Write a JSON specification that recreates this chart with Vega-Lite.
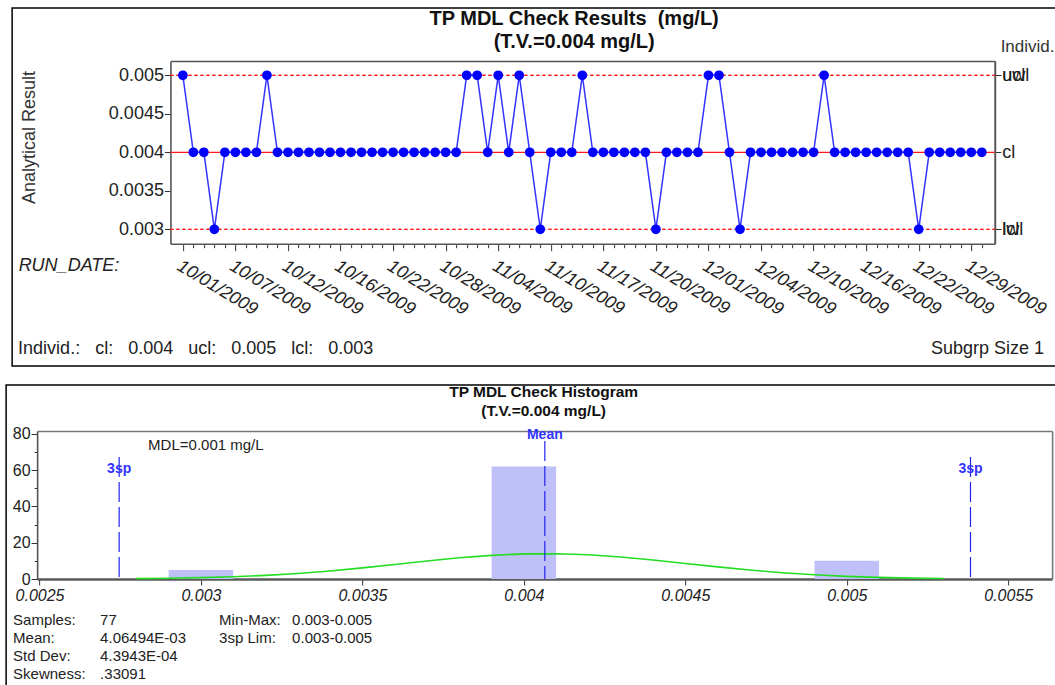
{
  "$schema": "https://vega.github.io/schema/vega-lite/v6.json",
  "background": "white",
  "padding": {"left": 5, "top": 7, "right": 0, "bottom": 0},
  "spacing": 16,
  "center": true,
  "config": {
    "font": "Liberation Sans",
    "view": {"stroke": "#000", "strokeWidth": 1.5},
    "axis": {
      "grid": false,
      "labelFont": "Liberation Sans",
      "titleFont": "Liberation Sans",
      "labelColor": "#222",
      "titleColor": "#333",
      "tickColor": "#333",
      "domainColor": "#555",
      "labelOverlap": false,
      "labelFlush": false,
      "labelBound": false
    },
    "text": {"font": "Liberation Sans"}
  },
  "datasets": {
    "results": [
      {"sample": 1, "result": 0.005}, {"sample": 2, "result": 0.004}, {"sample": 3, "result": 0.004},
      {"sample": 4, "result": 0.003}, {"sample": 5, "result": 0.004}, {"sample": 6, "result": 0.004},
      {"sample": 7, "result": 0.004}, {"sample": 8, "result": 0.004}, {"sample": 9, "result": 0.005},
      {"sample": 10, "result": 0.004}, {"sample": 11, "result": 0.004}, {"sample": 12, "result": 0.004},
      {"sample": 13, "result": 0.004}, {"sample": 14, "result": 0.004}, {"sample": 15, "result": 0.004},
      {"sample": 16, "result": 0.004}, {"sample": 17, "result": 0.004}, {"sample": 18, "result": 0.004},
      {"sample": 19, "result": 0.004}, {"sample": 20, "result": 0.004}, {"sample": 21, "result": 0.004},
      {"sample": 22, "result": 0.004}, {"sample": 23, "result": 0.004}, {"sample": 24, "result": 0.004},
      {"sample": 25, "result": 0.004}, {"sample": 26, "result": 0.004}, {"sample": 27, "result": 0.004},
      {"sample": 28, "result": 0.005}, {"sample": 29, "result": 0.005}, {"sample": 30, "result": 0.004},
      {"sample": 31, "result": 0.005}, {"sample": 32, "result": 0.004}, {"sample": 33, "result": 0.005},
      {"sample": 34, "result": 0.004}, {"sample": 35, "result": 0.003}, {"sample": 36, "result": 0.004},
      {"sample": 37, "result": 0.004}, {"sample": 38, "result": 0.004}, {"sample": 39, "result": 0.005},
      {"sample": 40, "result": 0.004}, {"sample": 41, "result": 0.004}, {"sample": 42, "result": 0.004},
      {"sample": 43, "result": 0.004}, {"sample": 44, "result": 0.004}, {"sample": 45, "result": 0.004},
      {"sample": 46, "result": 0.003}, {"sample": 47, "result": 0.004}, {"sample": 48, "result": 0.004},
      {"sample": 49, "result": 0.004}, {"sample": 50, "result": 0.004}, {"sample": 51, "result": 0.005},
      {"sample": 52, "result": 0.005}, {"sample": 53, "result": 0.004}, {"sample": 54, "result": 0.003},
      {"sample": 55, "result": 0.004}, {"sample": 56, "result": 0.004}, {"sample": 57, "result": 0.004},
      {"sample": 58, "result": 0.004}, {"sample": 59, "result": 0.004}, {"sample": 60, "result": 0.004},
      {"sample": 61, "result": 0.004}, {"sample": 62, "result": 0.005}, {"sample": 63, "result": 0.004},
      {"sample": 64, "result": 0.004}, {"sample": 65, "result": 0.004}, {"sample": 66, "result": 0.004},
      {"sample": 67, "result": 0.004}, {"sample": 68, "result": 0.004}, {"sample": 69, "result": 0.004},
      {"sample": 70, "result": 0.004}, {"sample": 71, "result": 0.003}, {"sample": 72, "result": 0.004},
      {"sample": 73, "result": 0.004}, {"sample": 74, "result": 0.004}, {"sample": 75, "result": 0.004},
      {"sample": 76, "result": 0.004}, {"sample": 77, "result": 0.004}
    ],
    "limits": [
      {"limit": "ucl", "value": 0.005},
      {"limit": "cl", "value": 0.004},
      {"limit": "lcl", "value": 0.003},
      {"limit": "uwl", "value": 0.005},
      {"limit": "lwl", "value": 0.003}
    ],
    "bins": [
      {"lo": 0.0029, "hi": 0.0031, "count": 5},
      {"lo": 0.0039, "hi": 0.0041, "count": 62},
      {"lo": 0.0049, "hi": 0.0051, "count": 10}
    ],
    "curve": [
      {"x": 0.0028, "freq": 0.22}, {"x": 0.0029, "freq": 0.42}, {"x": 0.003, "freq": 0.74},
      {"x": 0.0031, "freq": 1.25}, {"x": 0.0032, "freq": 2.01}, {"x": 0.0033, "freq": 3.07},
      {"x": 0.0034, "freq": 4.44}, {"x": 0.0035, "freq": 6.11}, {"x": 0.0036, "freq": 7.98},
      {"x": 0.0037, "freq": 9.89}, {"x": 0.0038, "freq": 11.66}, {"x": 0.0039, "freq": 13.03},
      {"x": 0.004, "freq": 13.83}, {"x": 0.0041, "freq": 13.94}, {"x": 0.0042, "freq": 13.34},
      {"x": 0.0043, "freq": 12.12}, {"x": 0.0044, "freq": 10.45}, {"x": 0.0045, "freq": 8.56},
      {"x": 0.0046, "freq": 6.66}, {"x": 0.0047, "freq": 4.92}, {"x": 0.0048, "freq": 3.45},
      {"x": 0.0049, "freq": 2.3}, {"x": 0.005, "freq": 1.45}, {"x": 0.0051, "freq": 0.87},
      {"x": 0.0052, "freq": 0.5}, {"x": 0.0053, "freq": 0.27}
    ],
    "markers": [
      {"marker": "Mean", "x": 0.00406494},
      {"marker": "3sp", "x": 0.00274665},
      {"marker": "3sp", "x": 0.00538323}
    ]
  },
  "vconcat": [
    {
      "width": 1050,
      "height": 358,
      "title": {
        "text": ["TP MDL Check Results\u00a0\u00a0(mg/L)", "(T.V.=0.004 mg/L)"],
        "fontSize": 20, "fontWeight": "bold", "lineHeight": 23, "color": "#111",
        "anchor": "middle", "frame": "group", "dx": 37, "offset": -44, "baseline": "top"
      },
      "layer": [
        {
          "data": {"name": "limits"},
          "transform": [{"filter": "datum.limit === 'cl'"}],
          "mark": {"type": "rule", "color": "#ff1a1a", "strokeWidth": 1.3},
          "encoding": {
            "x": {"datum": -0.18, "type": "quantitative",
              "axis": {"orient": "top", "offset": -53, "ticks": false, "labels": false,
                "domainWidth": 1.6, "domainColor": "#555",
                "title": "Individ.", "titleX": 988, "titleY": -15, "titleAlign": "left",
                "titleBaseline": "middle", "titleFontSize": 17, "titleFontWeight": "normal", "titleAngle": 0}},
            "x2": {"datum": 78.24},
            "y": {"field": "value", "type": "quantitative",
              "axis": {"orient": "right", "offset": -67.3, "values": [0.003, 0.004, 0.005],
                "labelExpr": "datum.value > 0.0045 ? 'ucl' : (datum.value < 0.0035 ? 'lcl' : 'cl')",
                "tickSize": 6, "labelFontSize": 18, "labelPadding": 1,
                "domainWidth": 1.6, "domainColor": "#555", "title": null}}
          }
        },
        {
          "data": {"name": "limits"},
          "transform": [{"filter": "datum.limit === 'ucl' || datum.limit === 'lcl'"}],
          "mark": {"type": "rule", "color": "#ff1a1a", "strokeWidth": 1.3, "strokeDash": [3, 3]},
          "encoding": {
            "x": {"datum": -0.18, "type": "quantitative", "axis": null},
            "x2": {"datum": 78.24},
            "y": {"field": "value", "type": "quantitative", "axis": null}
          }
        },
        {
          "data": {"name": "limits"},
          "transform": [{"filter": "datum.limit === 'uwl' || datum.limit === 'lwl'"}],
          "mark": {"type": "rule", "color": "#ff1a1a", "strokeWidth": 1.3, "strokeDash": [3, 3]},
          "encoding": {
            "x": {"datum": -0.18, "type": "quantitative", "axis": null},
            "x2": {"datum": 78.24},
            "y": {"field": "value", "type": "quantitative",
              "axis": {"orient": "right", "offset": -67.3, "values": [0.003, 0.005],
                "labelExpr": "datum.value > 0.004 ? 'uwl' : 'lwl'",
                "tickSize": 6, "labelFontSize": 18, "labelPadding": 1,
                "domainWidth": 1.6, "domainColor": "#555", "title": null}}
          }
        },
        {
          "data": {"name": "results"},
          "mark": {"type": "line", "color": "#3535ff", "strokeWidth": 1.5},
          "encoding": {
            "x": {"field": "sample", "type": "quantitative",
              "scale": {"domain": [-0.18, 78.24], "range": [158.3, 982.7], "nice": false, "zero": false},
              "axis": {"orient": "bottom", "offset": -122.3,
                "values": [1,2,3,4,5,6,7,8,9,10,11,12,13,14,15,16,17,18,19,20,21,22,23,24,25,26,27,28,29,30,31,32,33,34,35,36,37,38,39,40,41,42,43,44,45,46,47,48,49,50,51,52,53,54,55,56,57,58,59,60,61,62,63,64,65,66,67,68,69,70,71,72,73,74,75,76,77],
                "labelExpr": "(datum.value - 1) % 5 === 0 ? ['10/01/2009','10/07/2009','10/12/2009','10/16/2009','10/22/2009','10/28/2009','11/04/2009','11/10/2009','11/17/2009','11/20/2009','12/01/2009','12/04/2009','12/10/2009','12/16/2009','12/22/2009','12/29/2009'][(datum.value - 1) / 5] : ''",
                "tickSize": {"condition": {"test": "(datum.value - 1) % 5 === 0", "value": 7}, "value": 4},
                "labelAngle": 31, "labelAlign": "left", "labelBaseline": "top", "labelPadding": 6,
                "labelFontSize": 18, "labelFontStyle": "italic",
                "domainWidth": 1.6, "domainColor": "#555",
                "title": "RUN_DATE:", "titleX": 6, "titleY": 22, "titleAlign": "left", "titleBaseline": "middle",
                "titleFontSize": 18, "titleFontStyle": "italic", "titleFontWeight": "normal", "titleColor": "#222"}},
            "y": {"field": "result", "type": "quantitative",
              "scale": {"domain": [0.002813, 0.005186], "range": [235.7, 53], "nice": false, "zero": false},
              "axis": {"orient": "left", "offset": -158.3, "values": [0.003, 0.0035, 0.004, 0.0045, 0.005],
                "format": "~g", "tickSize": 6, "labelFontSize": 18, "labelPadding": 1,
                "domainWidth": 1.6, "domainColor": "#555",
                "title": "Analytical Result", "titleX": -141.3, "titleY": 129, "titleAngle": -90,
                "titleAlign": "center", "titleBaseline": "middle", "titleFontSize": 18, "titleFontWeight": "normal"}}
          }
        },
        {
          "data": {"name": "results"},
          "mark": {"type": "circle", "size": 95, "color": "#0000ff", "opacity": 1},
          "encoding": {
            "x": {"field": "sample", "type": "quantitative", "axis": null},
            "y": {"field": "result", "type": "quantitative", "axis": null}
          }
        },
        {
          "data": {"values": [{"caption": "Individ.:\u00a0\u00a0\u00a0cl:\u00a0\u00a0\u00a00.004\u00a0\u00a0\u00a0ucl:\u00a0\u00a0\u00a00.005\u00a0\u00a0\u00a0lcl:\u00a0\u00a0\u00a00.003"}]},
          "mark": {"type": "text", "align": "left", "baseline": "middle", "fontSize": 18, "color": "#222"},
          "encoding": {
            "x": {"datum": -14.67, "type": "quantitative", "axis": null},
            "y": {"datum": 0.0014453, "type": "quantitative", "axis": null},
            "text": {"field": "caption"}
          }
        },
        {
          "data": {"values": [{"caption": "Subgrp Size 1"}]},
          "mark": {"type": "text", "align": "right", "baseline": "middle", "fontSize": 18, "color": "#222"},
          "encoding": {
            "x": {"datum": 82.93, "type": "quantitative", "axis": null},
            "y": {"datum": 0.0014453, "type": "quantitative", "axis": null},
            "text": {"field": "caption"}
          }
        }
      ],
      "resolve": {"axis": {"x": "independent", "y": "independent"}}
    },
    {
      "width": 1062,
      "height": 310,
      "title": {
        "text": ["TP MDL Check Histogram", "(T.V.=0.004 mg/L)"],
        "fontSize": 15.5, "fontWeight": "bold", "lineHeight": 19, "color": "#111",
        "anchor": "middle", "frame": "group", "dx": 6.5, "offset": -34, "baseline": "top"
      },
      "layer": [
        {
          "data": {"name": "bins"},
          "mark": {"type": "rect", "color": "#c0c0f8"},
          "encoding": {
            "x": {"field": "lo", "type": "quantitative",
              "scale": {"domain": [0.0024926, 0.005636], "range": [31, 1046], "nice": false, "zero": false},
              "axis": {"orient": "bottom", "offset": -116,
                "values": [0.0025, 0.003, 0.0035, 0.004, 0.0045, 0.005, 0.0055], "format": "~g",
                "tickSize": 6, "labelFontSize": 16, "labelFontStyle": "italic", "labelPadding": 2,
                "domainWidth": 2.5, "domainColor": "#5a5a5a", "title": null}},
            "x2": {"field": "hi"},
            "y": {"field": "count", "type": "quantitative",
              "scale": {"domain": [0, 81.5], "range": [194, 46], "nice": false, "zero": false},
              "axis": {"orient": "left", "offset": -31, "values": [0, 10, 20, 30, 40, 50, 60, 70, 80],
                "labelExpr": "datum.value % 20 === 0 ? datum.label : ''",
                "tickSize": {"condition": {"test": "datum.value % 20 === 0", "value": 6}, "value": 3},
                "labelFontSize": 16, "labelPadding": 1,
                "domainWidth": 1.6, "domainColor": "#555", "title": null}},
            "y2": {"datum": 0}
          }
        },
        {
          "data": {"name": "curve"},
          "mark": {"type": "line", "color": "#22dd22", "strokeWidth": 1.6},
          "encoding": {
            "x": {"field": "x", "type": "quantitative", "axis": null},
            "y": {"field": "freq", "type": "quantitative", "axis": null}
          }
        },
        {
          "data": {"name": "markers"},
          "transform": [{"filter": "datum.marker === 'Mean'"}],
          "mark": {"type": "rule", "color": "#2222ee", "strokeWidth": 1.2, "strokeDash": [20, 5]},
          "encoding": {
            "x": {"field": "x", "type": "quantitative", "axis": null},
            "y": {"datum": 76, "type": "quantitative", "axis": null},
            "y2": {"datum": 0}
          }
        },
        {
          "data": {"name": "markers"},
          "transform": [{"filter": "datum.marker === '3sp'"}],
          "mark": {"type": "rule", "color": "#2222ee", "strokeWidth": 1.2, "strokeDash": [20, 5]},
          "encoding": {
            "x": {"field": "x", "type": "quantitative", "axis": null},
            "y": {"datum": 67.2, "type": "quantitative", "axis": null},
            "y2": {"datum": 0}
          }
        },
        {
          "data": {"name": "markers"},
          "transform": [{"filter": "datum.marker === 'Mean'"}],
          "mark": {"type": "text", "fontSize": 14, "fontWeight": "bold", "color": "#3333ff", "align": "center", "baseline": "middle"},
          "encoding": {
            "x": {"field": "x", "type": "quantitative", "axis": null},
            "y": {"datum": 79.5, "type": "quantitative", "axis": null},
            "text": {"field": "marker"}
          }
        },
        {
          "data": {"name": "markers"},
          "transform": [{"filter": "datum.marker === '3sp'"}],
          "mark": {"type": "text", "fontSize": 14, "fontWeight": "bold", "color": "#3333ff", "align": "center", "baseline": "middle"},
          "encoding": {
            "x": {"field": "x", "type": "quantitative", "axis": null},
            "y": {"datum": 60.5, "type": "quantitative", "axis": null},
            "text": {"field": "marker"}
          }
        },
        {
          "data": {"values": [{"note": "MDL=0.001 mg/L"}]},
          "mark": {"type": "text", "fontSize": 15, "color": "#222", "align": "left", "baseline": "middle"},
          "encoding": {
            "x": {"datum": 0.0028363, "type": "quantitative",
              "axis": {"orient": "top", "offset": -46, "ticks": false, "labels": false,
                "domainWidth": 1.6, "domainColor": "#777", "title": null}},
            "y": {"datum": 73.8, "type": "quantitative",
              "axis": {"orient": "right", "offset": -16, "ticks": false, "labels": false,
                "domainWidth": 1.6, "domainColor": "#777", "title": null}},
            "text": {"field": "note"}
          }
        },
        {
          "data": {"values": [{}]},
          "mark": {"type": "text", "fontSize": 15, "color": "#222", "align": "left", "baseline": "alphabetic", "lineHeight": 18},
          "encoding": {
            "x": {"datum": 0.0024182, "type": "quantitative", "axis": null},
            "y": {"datum": -25.6, "type": "quantitative", "axis": null},
            "text": {"value": ["Samples:", "Mean:", "Std Dev:", "Skewness:"]}
          }
        },
        {
          "data": {"values": [{}]},
          "mark": {"type": "text", "fontSize": 15, "color": "#222", "align": "left", "baseline": "alphabetic", "lineHeight": 18},
          "encoding": {
            "x": {"datum": 0.0026877, "type": "quantitative", "axis": null},
            "y": {"datum": -25.6, "type": "quantitative", "axis": null},
            "text": {"value": ["77", "4.06494E-03", "4.3943E-04", ".33091"]}
          }
        },
        {
          "data": {"values": [{}]},
          "mark": {"type": "text", "fontSize": 15, "color": "#222", "align": "left", "baseline": "alphabetic", "lineHeight": 18},
          "encoding": {
            "x": {"datum": 0.0030562, "type": "quantitative", "axis": null},
            "y": {"datum": -25.6, "type": "quantitative", "axis": null},
            "text": {"value": ["Min-Max:", "3sp Lim:"]}
          }
        },
        {
          "data": {"values": [{}]},
          "mark": {"type": "text", "fontSize": 15, "color": "#222", "align": "left", "baseline": "alphabetic", "lineHeight": 18},
          "encoding": {
            "x": {"datum": 0.0032823, "type": "quantitative", "axis": null},
            "y": {"datum": -25.6, "type": "quantitative", "axis": null},
            "text": {"value": ["0.003-0.005", "0.003-0.005"]}
          }
        }
      ],
      "resolve": {"axis": {"x": "independent", "y": "independent"}}
    }
  ]
}
